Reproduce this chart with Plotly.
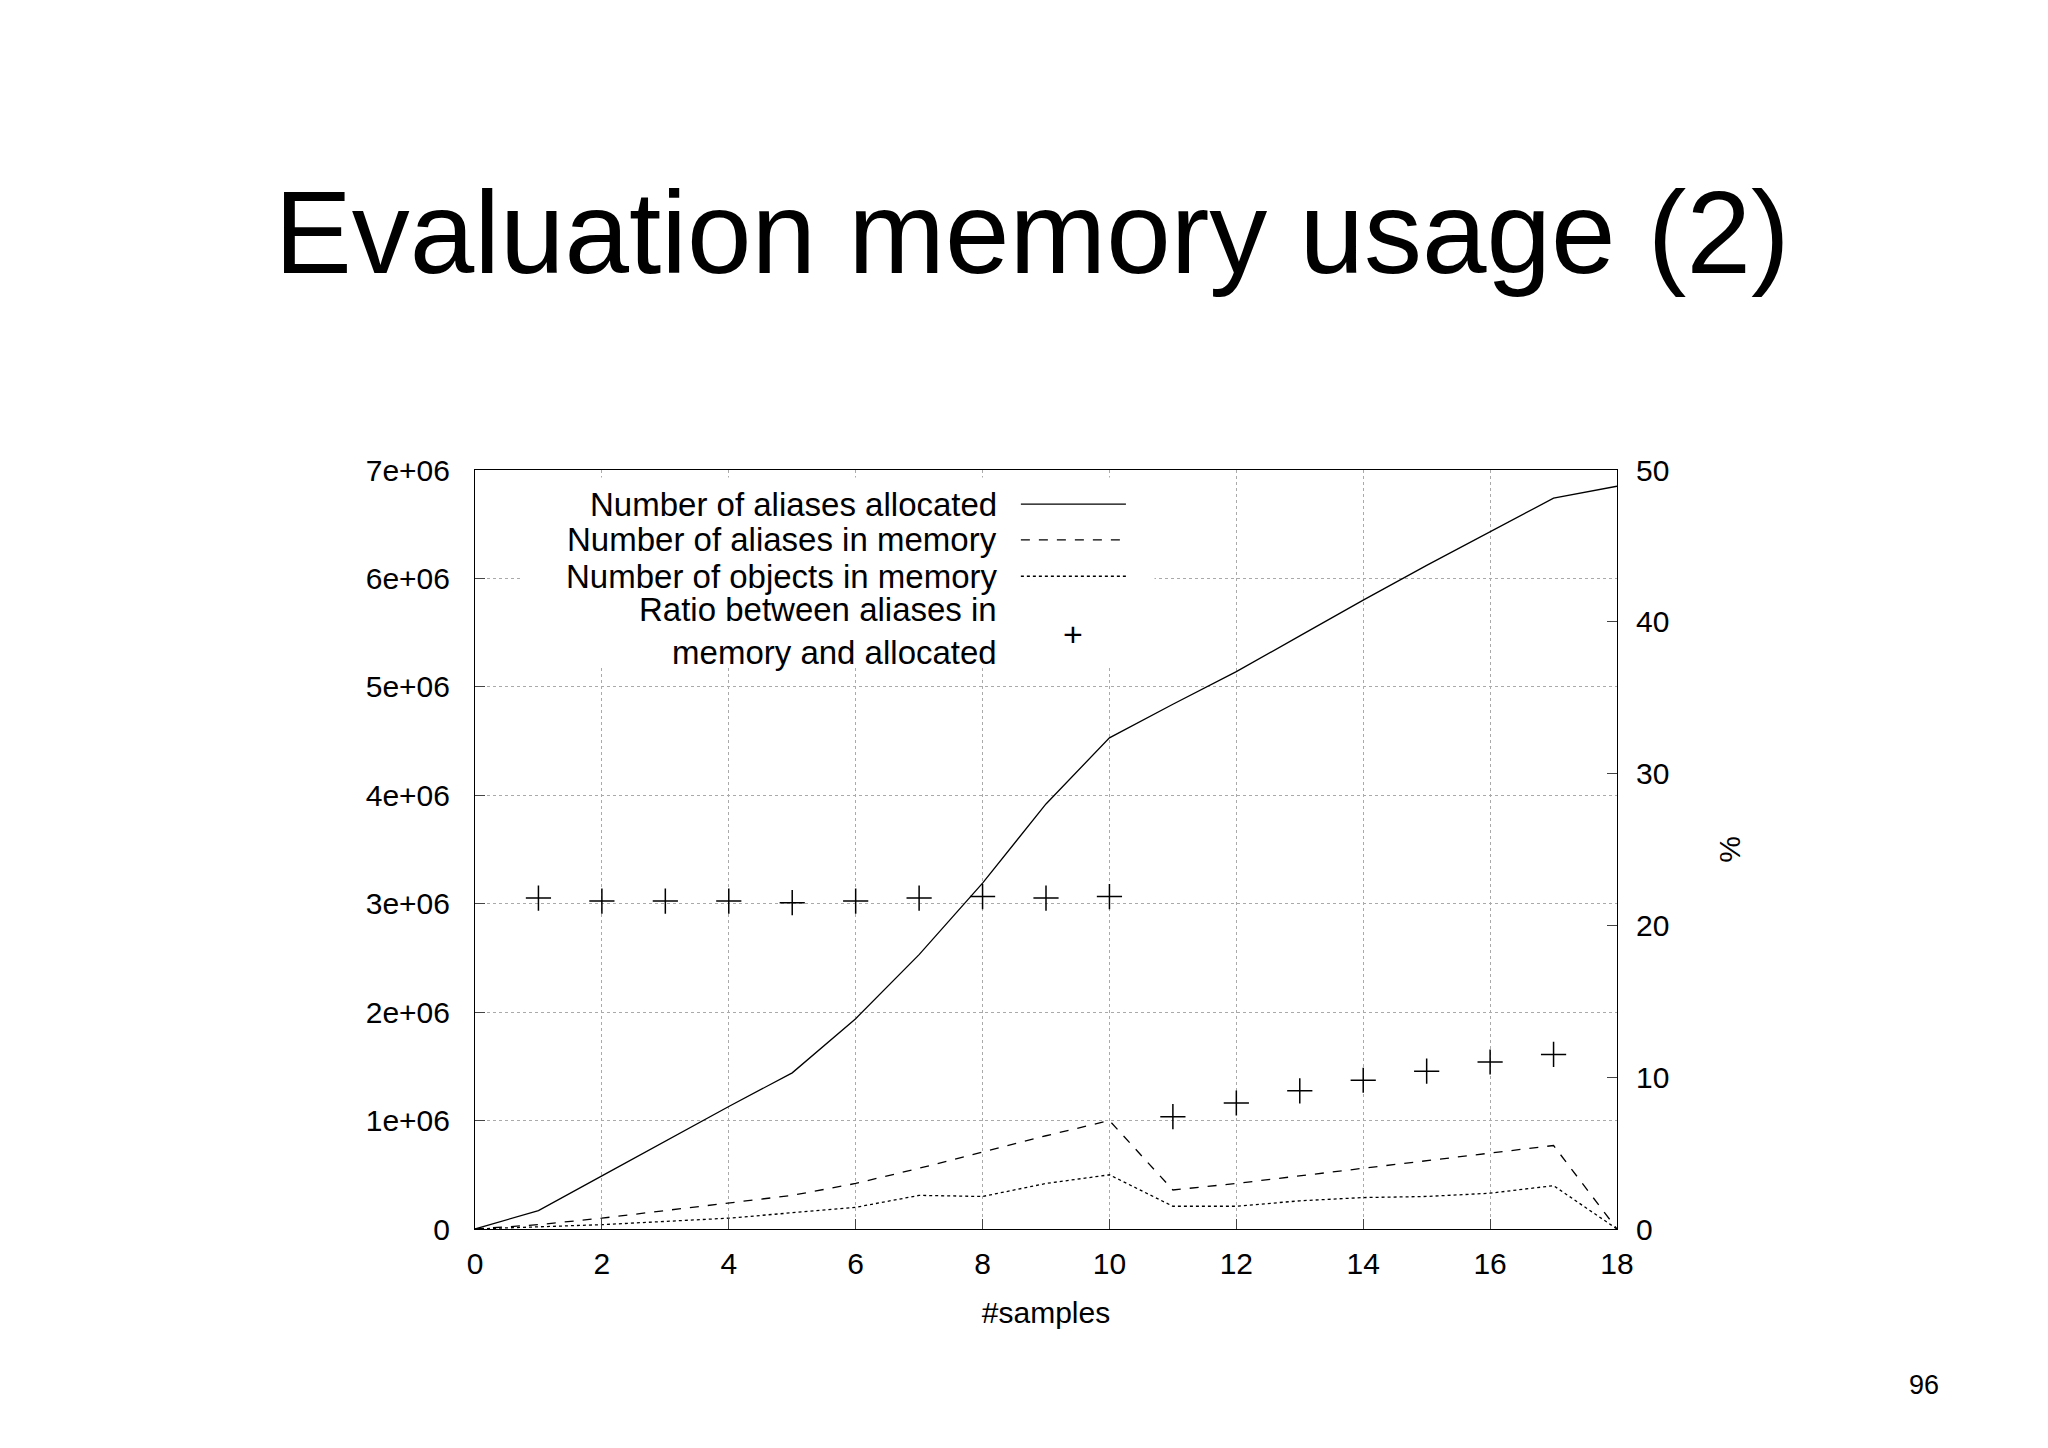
import plotly.graph_objects as go

samples = list(range(19))
aliases_allocated = [0, 0.17e6, 0.49e6, 0.81e6, 1.13e6, 1.44e6, 1.94e6, 2.53e6, 3.19e6, 3.92e6, 4.53e6,
                     4.84e6, 5.14e6, 5.47e6, 5.80e6, 6.12e6, 6.43e6, 6.74e6, 6.85e6]
aliases_in_memory = [0, 0.04e6, 0.10e6, 0.17e6, 0.24e6, 0.31e6, 0.42e6, 0.56e6, 0.71e6, 0.86e6, 1.0e6,
                     0.36e6, 0.42e6, 0.49e6, 0.56e6, 0.63e6, 0.70e6, 0.77e6, 0]
objects_in_memory = [0, 0.02e6, 0.04e6, 0.07e6, 0.10e6, 0.15e6, 0.20e6, 0.31e6, 0.30e6, 0.42e6, 0.50e6,
                     0.21e6, 0.21e6, 0.26e6, 0.29e6, 0.30e6, 0.33e6, 0.40e6, 0]
ratio_x = list(range(1, 18))
ratio_pct = [21.8, 21.6, 21.6, 21.6, 21.5, 21.6, 21.8, 21.9, 21.8, 21.9,
             7.4, 8.3, 9.1, 9.8, 10.4, 11.0, 11.5]
y_tickvals = [0, 1e6, 2e6, 3e6, 4e6, 5e6, 6e6, 7e6]
y_ticktext = ["0", "1e+06", "2e+06", "3e+06", "4e+06", "5e+06", "6e+06", "7e+06"]

legend_labels = ["Number of aliases allocated", "Number of aliases in memory",
                 "Number of objects in memory", "Ratio between aliases in<br>memory and allocated"]

F = "Liberation Sans, Arial, sans-serif"
fig = go.Figure()
fig.add_trace(go.Scatter(x=samples, y=aliases_allocated, mode="lines", line=dict(color="black", width=1.3)))
fig.add_trace(go.Scatter(x=samples, y=aliases_in_memory, mode="lines", line=dict(color="black", width=1.3, dash="dash")))
fig.add_trace(go.Scatter(x=samples, y=objects_in_memory, mode="lines", line=dict(color="black", width=1.3, dash="dot")))
fig.add_trace(go.Scatter(x=ratio_x, y=ratio_pct, mode="markers", yaxis="y2",
                         marker=dict(symbol="cross-thin-open", size=18, color="black",
                                     line=dict(color="black", width=1.5))))

grid = dict(showgrid=True, gridcolor="#aaaaaa", griddash="dot", gridwidth=1)
fig.update_layout(
    width=2048, height=1448, showlegend=False, plot_bgcolor="white", paper_bgcolor="white",
    margin=dict(l=467, r=439, t=462, b=227),
    font=dict(family=F, size=30, color="black"),
    title=dict(text="Evaluation memory usage (2)", x=0.5, xanchor="center", y=0.845, yanchor="middle",
               font=dict(family=F, size=116, color="black")),
    xaxis=dict(range=[0, 18], dtick=2, showline=True, linecolor="black", mirror=True, ticks="inside",
               ticklen=10, ticklabelstandoff=8, title=dict(text="#samples", font=dict(size=30), standoff=22), **grid),
    yaxis=dict(range=[0, 7e6], tickvals=y_tickvals, ticktext=y_ticktext, showline=True, linecolor="black",
               mirror=True, ticks="inside", ticklen=10, ticklabelstandoff=18, zeroline=False, **grid),
    yaxis2=dict(range=[0, 50], dtick=10, overlaying="y", side="right", ticks="inside", ticklen=10,
                ticklabelstandoff=18, showgrid=False, zeroline=False,
                title=dict(text="%", font=dict(size=30), standoff=50)),
)
fig.add_shape(type="rect", xref="x domain", yref="y domain", x0=0.04, x1=0.595, y0=0.74, y1=0.99,
              fillcolor="white", line=dict(width=0), layer="above")
ys = [0.955, 0.908, 0.860, 0.788]
dashes = ["solid", "dash", "dot"]
for i, lab in enumerate(legend_labels):
    fig.add_annotation(xref="x domain", yref="y domain", x=0.459, y=ys[i], text=lab, showarrow=False,
                       xanchor="right", yanchor="middle", align="right", font=dict(size=33))
for i in range(3):
    fig.add_shape(type="line", xref="x domain", yref="y domain", x0=0.478, x1=0.570, y0=ys[i], y1=ys[i],
                  line=dict(color="black", width=1.3, dash=dashes[i]), layer="above")
fig.add_annotation(xref="x domain", yref="y domain", x=0.524, y=0.812, text="+", showarrow=False,
                   font=dict(size=34))
fig.add_annotation(xref="x domain", yref="y domain", x=1.284, y=-0.228, text="96", showarrow=False,
                   font=dict(family="Gill Sans, Liberation Sans", size=27))
fig.write_html("out.html")
